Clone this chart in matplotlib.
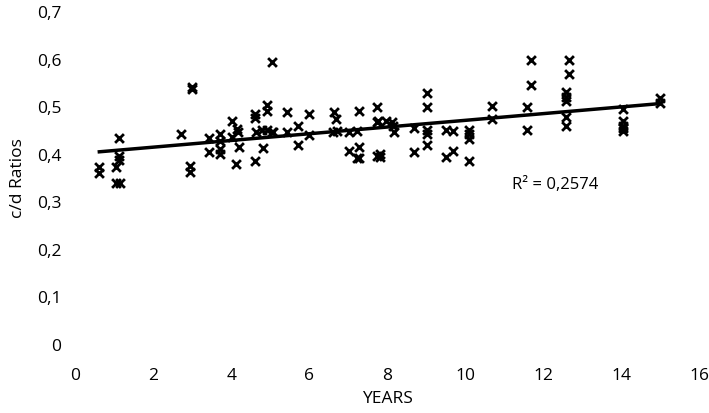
"""
c/d ratios against years, scatter with linear trend line.
"""
import numpy as np
import matplotlib.pyplot as plt

plt.rcParams['font.family'] = ['Open Sans', 'DejaVu Sans']

years = [0.62, 0.62, 1.13, 1.13, 1.13, 1.05, 1.05, 1.15, 2.72, 2.95, 2.95,
         3.0, 3.0, 3.44, 3.44, 3.72, 3.72, 3.72, 3.72, 4.03, 4.15, 4.18,
         4.03, 4.2, 4.13, 4.62, 4.62, 4.64, 4.62, 4.82, 4.92, 4.92, 4.79,
         4.92, 5.08, 5.05, 5.05, 5.44, 5.44, 5.72, 5.72, 6.0, 6.0, 6.62,
         6.64, 6.69, 6.72, 7.03, 7.23, 7.28, 7.03, 7.28, 7.23, 7.28, 7.74,
         7.74, 7.74, 7.77, 7.82, 7.82, 7.97, 8.13, 8.15, 8.18, 8.69, 8.69,
         9.03, 9.03, 9.03, 9.03, 9.03, 9.51, 9.69, 9.51, 9.69, 10.1, 10.1,
         10.1, 10.1, 10.69, 10.69, 11.69, 11.69, 11.59, 11.59, 12.67, 12.67,
         12.59, 12.59, 12.59, 12.59, 12.59, 14.05, 14.05, 14.05, 14.05,
         14.05, 15.0, 15.0]

ratios = [0.372, 0.359, 0.433, 0.395, 0.387, 0.372, 0.338, 0.338, 0.441,
          0.374, 0.361, 0.540, 0.537, 0.433, 0.403, 0.441, 0.426, 0.410,
          0.400, 0.468, 0.452, 0.445, 0.435, 0.414, 0.378, 0.483, 0.475,
          0.445, 0.384, 0.412, 0.502, 0.490, 0.450, 0.450, 0.445, 0.592,
          0.445, 0.487, 0.445, 0.458, 0.418, 0.483, 0.439, 0.445, 0.487,
          0.473, 0.447, 0.445, 0.447, 0.489, 0.405, 0.414, 0.390, 0.390,
          0.498, 0.466, 0.395, 0.468, 0.399, 0.393, 0.468, 0.466, 0.458,
          0.445, 0.454, 0.403, 0.527, 0.498, 0.450, 0.441, 0.418, 0.450,
          0.447, 0.393, 0.405, 0.450, 0.441, 0.431, 0.384, 0.500, 0.473,
          0.597, 0.544, 0.498, 0.450, 0.597, 0.567, 0.529, 0.520, 0.510,
          0.477, 0.458, 0.494, 0.468, 0.458, 0.453, 0.447, 0.517, 0.506]

x = np.array(years)
y = np.array(ratios)

fig = plt.figure(figsize=(7.09, 4.14), dpi=100)
ax = fig.add_axes([0.106, 0.167, 0.88, 0.804])

ax.scatter(x, y, marker='x', s=40, c='black', linewidths=2)

# linear trend
slope, intercept = np.polyfit(x, y, 1)
xl = np.array([x.min(), x.max()])
ax.plot(xl, slope * xl + intercept, color='black', lw=2.5)
ax.text(11.2, 0.336, 'R² = 0,2574', fontsize=12, va='center')

ax.set_xlim(0, 16)
ax.set_ylim(0, 0.7)
ax.set_xticks(np.arange(0, 17, 2))
ax.set_yticks(np.arange(0, 0.71, 0.1))
ax.set_yticklabels(['0', '0,1', '0,2', '0,3', '0,4', '0,5', '0,6', '0,7'])
ax.tick_params(length=0, labelsize=12.5)
ax.tick_params(axis='x', pad=17)
ax.tick_params(axis='y', pad=10)
for s in ax.spines.values():
    s.set_visible(False)

ax.set_xlabel('YEARS', fontsize=12.5, labelpad=5)
ax.set_ylabel('c/d Ratios', fontsize=12.5, labelpad=8)

plt.savefig('out.png', dpi=100)
